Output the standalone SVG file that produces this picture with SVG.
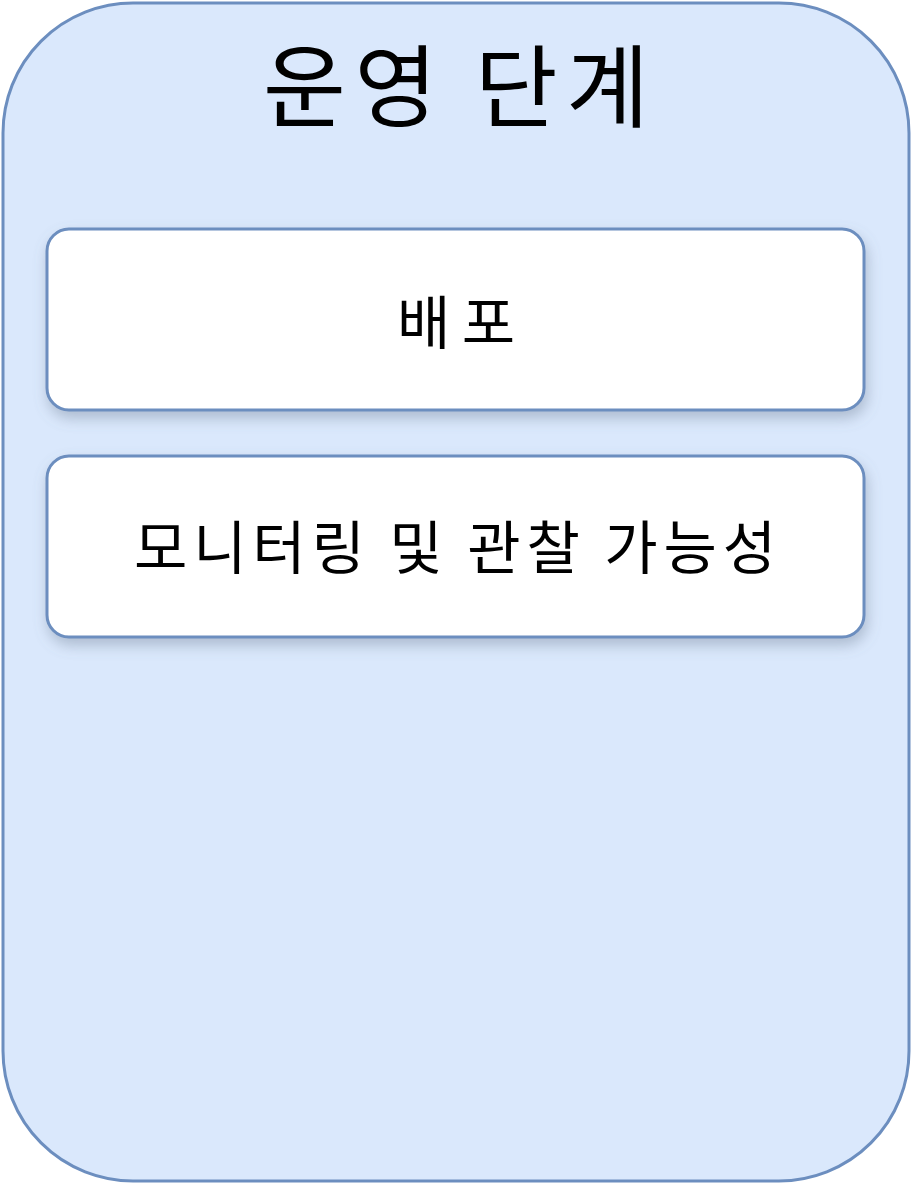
<svg xmlns="http://www.w3.org/2000/svg" width="912" height="1184" viewBox="0 0 912 1184">
<defs>
<filter id="sh" x="-10%" y="-20%" width="120%" height="160%">
<feDropShadow dx="2" dy="7" stdDeviation="7" flood-color="#6c7a90" flood-opacity="0.4"/>
</filter>
<style>
.node{fill:#ffffff;stroke:#6c8ebf;stroke-width:3;}
.lbl{font-family:"Noto Sans CJK KR","Noto Sans",sans-serif;fill:#000000;text-anchor:middle;dominant-baseline:central;}
</style>
</defs>
<rect width="912" height="1184" fill="#ffffff"/>
<g id="container">
<rect x="3" y="3" width="906" height="1178" rx="130" ry="130" fill="#dae8fc" stroke="#6c8ebf" stroke-width="3"/>
<text class="lbl" x="456" y="81" font-size="90" textLength="386" lengthAdjust="spacing">운영 단계</text>
</g>
<g id="connectors"></g>
<g id="node-deploy">
<rect class="node" x="47" y="229" width="817" height="181" rx="22" filter="url(#sh)"/>
<text class="lbl" x="456" y="319" font-size="58" textLength="118" lengthAdjust="spacing">배포</text>
</g>
<g id="node-monitoring">
<rect class="node" x="47" y="456" width="817" height="181" rx="22" filter="url(#sh)"/>
<text class="lbl" x="455" y="544" font-size="58" textLength="642" lengthAdjust="spacing">모니터링 및 관찰 가능성</text>
</g>
</svg>
